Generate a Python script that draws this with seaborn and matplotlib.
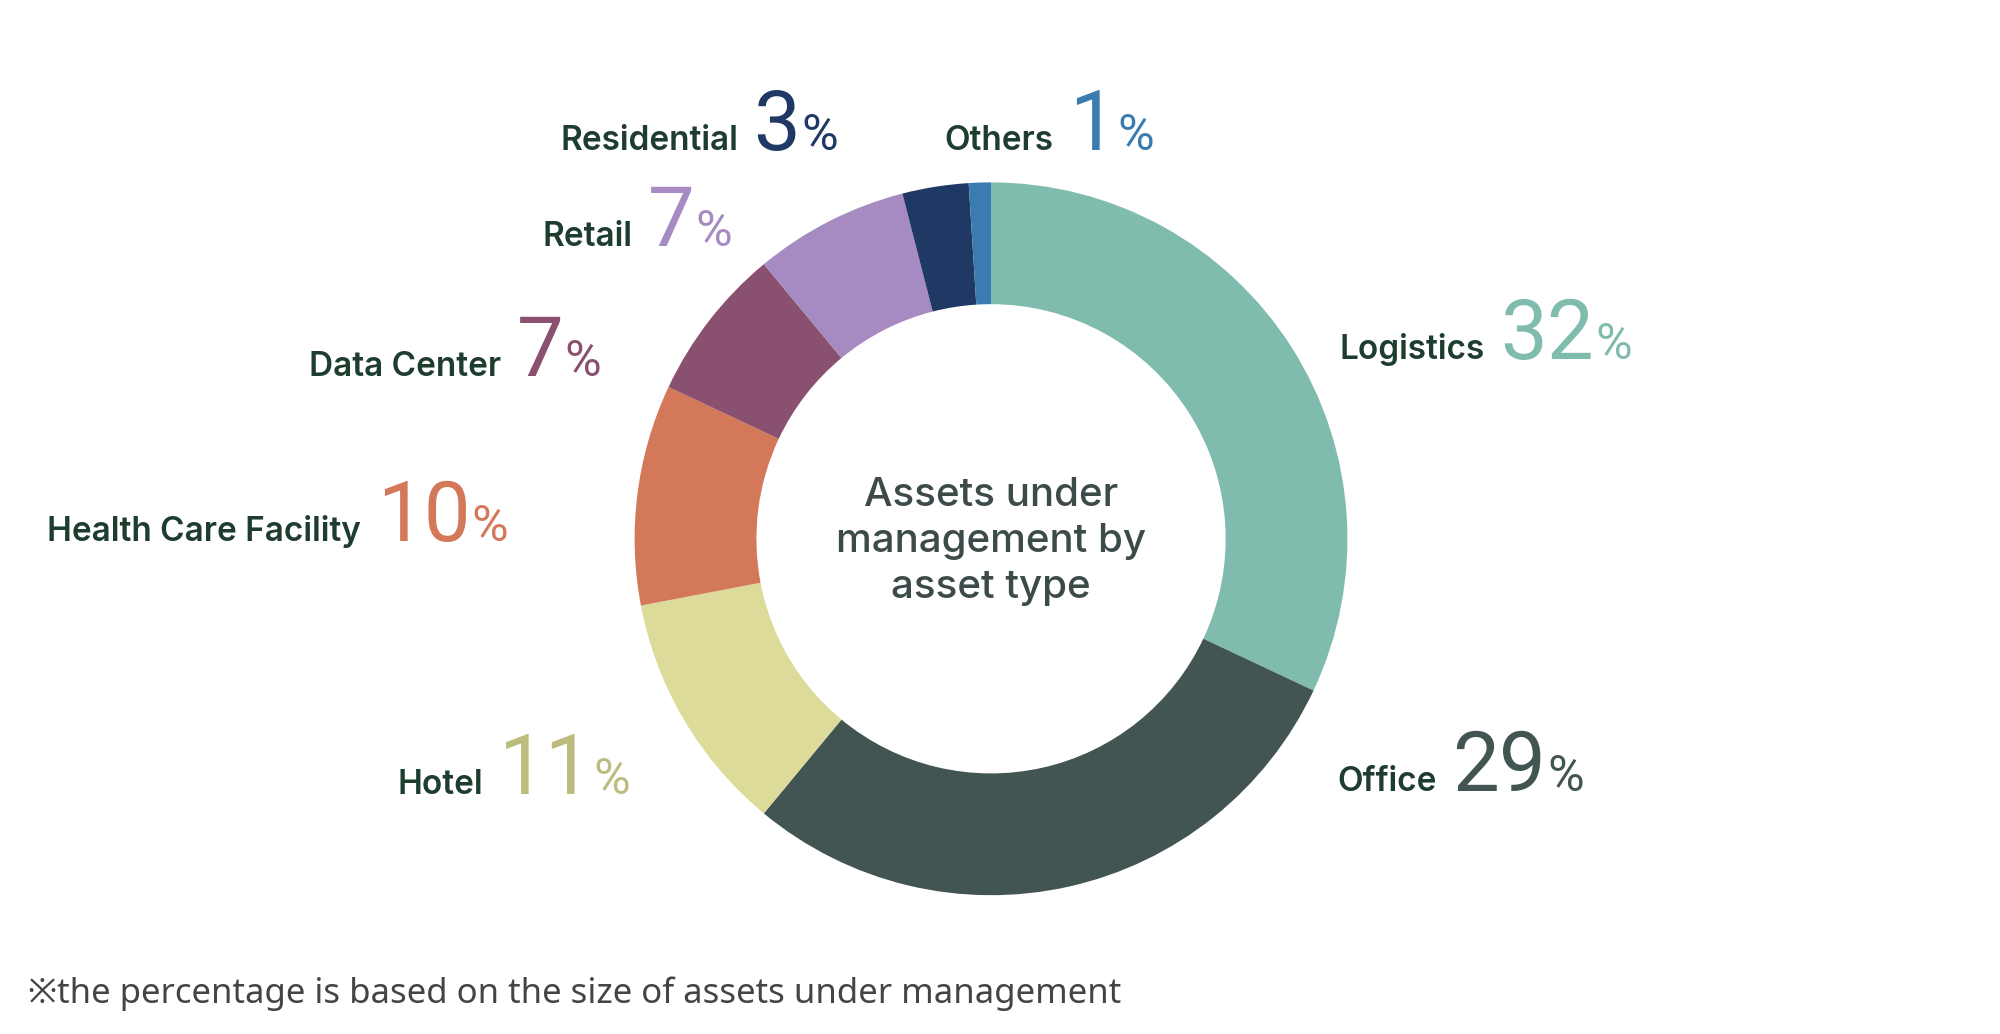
import matplotlib.pyplot as plt
import seaborn as sns

# data
categories = ["Logistics", "Office", "Hotel", "Health Care Facility",
              "Data Center", "Retail", "Residential", "Others"]
shares = [32, 29, 11, 10, 7, 7, 3, 1]
colors = ["#80bcad", "#425553", "#dcdb9a", "#d4785a",
          "#8a506f", "#a58bc1", "#1f3864", "#3a7cb0"]
number_colors = ["#80bcad", "#425553", "#bdbc7e", "#d4785a",
                 "#8a506f", "#a58bc1", "#1f3864", "#3a7cb0"]
center_title = "Assets under\nmanagement by\nasset type"
footnote = "※the percentage is based on the size of assets under management"

sns.set_theme(style="white")
plt.rcParams["font.family"] = ["Inter", "DejaVu Sans", "Noto Sans CJK JP"]

W, H = 1560, 806  # working units (reference pixel grid)
fig = plt.figure(figsize=(20, 10.34), dpi=100)
ax = fig.add_axes([0, 0, 1, 1])

cx, cy, r = 773, H - 420, 278
ax.pie(shares, colors=colors, startangle=90, counterclock=False,
       center=(cx, cy), radius=r, wedgeprops=dict(width=95, linewidth=0),
       frame=True)
ax.set_xlim(0, W)
ax.set_ylim(0, H)
ax.axis("off")

ax.text(cx, cy - 2, center_title, ha="center", va="center", fontsize=29,
        fontweight="medium", color="#3d4a4a", linespacing=1.3)

# label layout: (text left x, baseline y from top)
layout = {
    "Logistics": (1045, 280),
    "Office": (1043, 617),
    "Hotel": (310, 619),
    "Health Care Facility": (37, 422),
    "Data Center": (241, 293),
    "Retail": (423, 192),
    "Residential": (437, 117),
    "Others": (737, 117),
}
renderer = fig.canvas.get_renderer()
scale = W / fig.bbox.width


def width_of(t):
    return t.get_window_extent(renderer).width * scale


for cat, val, col in zip(categories, shares, number_colors):
    tx, by = layout[cat]
    y = H - by
    t1 = ax.text(tx, y, cat, ha="left", va="baseline", fontsize=24,
                 fontweight="semibold", color="#1e3d2f")
    x = tx + width_of(t1) + 12
    t2 = ax.text(x, y, str(val), ha="left", va="baseline", fontsize=60,
                 color=col, family="Roboto")
    x += width_of(t2) + 1
    ax.text(x, y, "%", ha="left", va="baseline", fontsize=36,
            color=col, family="Roboto")

ax.text(22, H - 782, footnote, ha="left", va="baseline", fontsize=25,
        color="#444444", family=["Noto Sans", "Noto Sans CJK JP"])

fig.savefig("out.png", dpi=100)
